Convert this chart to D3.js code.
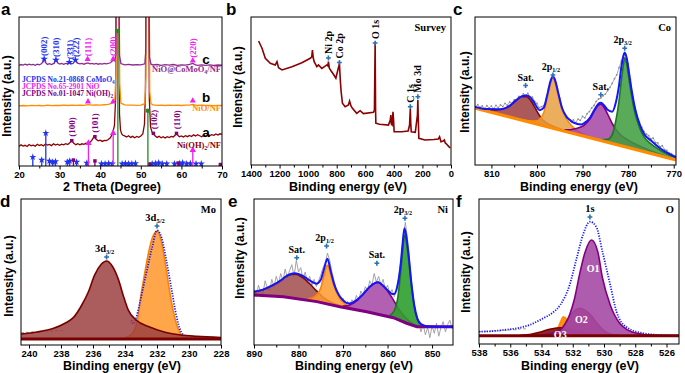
<!DOCTYPE html>
<html>
<head>
<meta charset="utf-8">
<script src="https://cdn.jsdelivr.net/npm/d3@7"></script>
<style>
  body { margin: 0; background: #fff; }
  text { font-family: "Liberation Sans", Arial, sans-serif; }
  .serif { font-family: "Liberation Serif", "Times New Roman", serif; font-weight: bold; }
  .bold { font-weight: bold; }
</style>
</head>
<body>
<svg id="fig" width="685" height="373"></svg>
<script>
// ---------- (a) XRD, 2 theta vs intensity (a.u.) ----------
const xrdA = [[20,13.0],[20.5,14.2],[21,13.4],[21.5,13.9],[22,13.1],[22.5,14.4],[23,13.6],[23.5,14.0],[24,13.3],[24.5,14.6],
  [25,13.8],[25.5,14.3],[26,13.5],[26.5,14.8],[27,14.0],[27.5,14.5],[28,13.7],[28.5,14.9],[29,14.1],[29.5,14.6],
  [30,13.9],[30.5,14.7],[31,14.2],[31.5,15.0],[32,14.4],[32.5,15.6],[33,17.0],[33.5,15.2],[34,14.3],[34.5,15.0],
  [35,14.2],[35.5,14.9],[36,14.5],[36.5,15.3],[37,14.8],[37.5,15.9],[38,17.5],[38.5,19.8],[39,18.0],[39.5,16.9],
  [40,17.3],[40.5,16.5],[41,17.2],[41.5,17.0],[42,17.8],[42.5,18.9],[43,21.5],[43.5,27],[43.8,45],[43.95,160],
  [44.6,160],[44.75,35],[45.0,24],[45.3,21.5],[45.6,20.6],[46,20.2],[46.5,19.5],[47,20.3],[47.5,19.2],[48,19.9],
  [48.5,19.0],[49,19.8],[49.5,19.3],[50,20.1],[50.5,21.5],[50.9,28],[51.15,50],[51.3,160],[51.9,160],[52.1,45],
  [52.4,26],[52.8,22.5],[53.1,21.8],[53.5,20.3],[54,19.2],[54.5,19.9],[55,18.9],[55.5,19.6],[56,18.8],[56.5,19.7],
  [57,19.1],[57.5,19.9],[58,19.5],[58.5,20.8],[58.8,21.5],[59.2,20.4],[59.5,19.6],[60,20.2],[60.5,19.4],[61,20.3],
  [61.5,19.7],[62,20.5],[62.5,19.8],[63,20.9],[63.5,20.1],[64,21.0],[64.5,20.3],[65,19.6],[65.5,20.6],[66,19.9],
  [66.5,21.2],[67,20.4],[67.5,21.0],[68,20.6],[68.5,21.5],[69,20.8],[69.5,21.6],[70,21.2]];
const xrdB = [[20,40.3],[21,40.6],[22,40.4],[23,40.7],[24,40.5],[25,40.6],[26,40.4],[27,40.8],[28,40.5],[29,40.7],
  [30,40.6],[31,40.9],[32,40.6],[33,40.8],[34,40.7],[35,40.9],[36,40.7],[37,41.2],[38,40.9],[39,41.0],[40,40.8],
  [41,41.1],[42,41.3],[42.8,42.0],[43.2,42.6],[43.6,43.8],[43.85,60],[44.0,160],[44.6,160],[44.8,55],[45.1,42.2],
  [46,41.0],[47,40.8],[48,40.9],[49,40.7],[50,40.9],[51.0,41.8],[51.25,60],[51.4,160],[52.0,160],[52.2,50],[52.5,41.8],
  [53,41.0],[54,40.7],[55,40.9],[56,40.6],[57,40.8],[58,40.7],[59,40.9],[60,40.6],[61,40.8],[62,40.9],[62.8,41.4],
  [63.5,40.8],[64,40.6],[65,40.8],[66,40.6],[67,40.7],[68,40.5],[69,40.7],[70,40.6]];
const xrdC = [[20,67.5],[20.5,68.1],[21,67.7],[21.5,68.3],[22,67.8],[22.5,68.4],[23,67.9],[23.5,68.2],[24,67.6],[24.5,68.3],
  [25,67.9],[25.5,68.6],[26,70.0],[26.2,72.5],[26.5,69.5],[27,68.2],[27.5,68.7],[28,68.1],[28.7,69.0],[29.1,72.0],
  [29.5,69.2],[30,68.4],[30.5,68.8],[31,68.2],[31.5,68.9],[32,68.6],[32.4,70.0],[32.8,68.9],[33.3,68.7],[33.9,71.0],
  [34.3,69.2],[35,68.5],[35.5,68.9],[36,68.3],[36.5,68.8],[37,69.2],[37.5,68.6],[38,68.9],[38.5,68.4],[39,68.8],
  [39.5,68.3],[40,68.7],[40.5,68.4],[41,68.9],[41.5,68.5],[42,68.8],[42.5,69.3],[43.2,71.0],[43.6,70.5],[43.85,76],
  [44.0,160],[44.55,160],[44.75,74],[45.1,68.8],[46,67.9],[47,68.2],[48,67.8],[49,68.1],[50,67.9],[51.0,68.6],
  [51.2,76],[51.35,160],[51.95,160],[52.15,73],[52.5,68.3],[53,67.8],[54,68.1],[55,67.6],[56,68.0],[57,67.7],
  [58,68.1],[59,67.6],[60,67.9],[61,67.7],[62,68.2],[62.8,68.9],[63.5,67.9],[64,67.6],[65,67.9],[66,67.5],
  [67,67.8],[68,67.6],[69,67.8],[70,67.6]];
const stickCoMoO4 = [[23.4,6.0],[25.6,4.0],[26.6,22.1],[27.5,3.4],[28.3,2.7],[29.0,3.0],[31.9,2.7],[32.5,3.4],
  [34.2,2.7],[36.7,2.0],[40.3,1.5],[41.2,1.5],[42.1,1.8],[43.0,1.5],[45.4,1.5],[46.2,1.8],[47.0,1.5],[47.8,1.5],
  [48.7,1.8],[52.8,1.5],[53.6,1.8],[54.4,2.2],[55.3,1.5],[56.4,1.5],[58.3,1.5],[59.6,1.8],[60.3,2.2],[61.3,1.5],
  [62.2,1.8],[63.6,1.5],[64.9,1.5]];
const stickNiO = [[37.1,15.4],[43.2,22.1],[62.8,10.7]];
const stickNiOH = [[33.4,4.0],[38.7,3.4],[52.2,1.3],[59.2,2.0],[69.6,1.0]];
const stickNi = [[44.35,90.6],[51.75,37.1]];
const hklCoMoO4 = [[26.2,71.8,'(002)'],[29.1,71.1,'(310)'],[32.4,69.6,'(3\u030431)'],[33.9,71.1,'(222)']];
const hklNiO = [[36.9,71.6,'(111)'],[43.2,71.8,'(200)'],[62.8,70.7,'(220)']];
const markNiOb = [[37.0,43.2],[43.2,43.2],[62.8,43.8]];
const hklNiOH = [[33.0,17.0,'(100)'],[38.7,19.7,'(101)'],[53.1,21.9,'(102)'],[58.8,21.9,'(110)']];

// ---------- (b) survey ----------
const survey = [[1347,83.8],[1323,78.9],[1300,72.1],[1265,68.7],[1230,67.6],[1218,69.8],[1207,65.7],[1183,64.2],
  [1113,66.4],[1044,69.1],[985,72.1],[975,73],[970,77.7],[964,72.3],[958,69.8],[939,66.4],[928,67.6],[904,65.3],
  [869,67.6],[862,67],[858,69.8],[852,65.5],[839,63.5],[823,61.3],[806,58.6],[795,63],[785,66.9],[781,68.7],
  [775,57.4],[769,49.5],[760,41.7],[741,39.4],[718,40.5],[710,43.2],[700,39.9],[690,38.3],[660,34.9],[645,36.1],
  [636,36.7],[613,34.7],[543,35.6],[536,37.2],[533,64.2],[531,82.2],[528,37.2],[526,28.2],[500,27.5],[438,27],
  [425,30.4],[421,33.8],[418,27.7],[412,27],[406,36],[402,30.4],[398,22.5],[345,22.5],[300,23],[290,27],[285,37.8],
  [281,26.4],[278,22.5],[250,22.1],[235,33.8],[232,43.9],[229,30.4],[225,18],[182,16.9],[120,17.2],[89,17.6],
  [80,19.1],[70,15.7],[55,16.2],[47,16.9],[40,14.9],[30,14],[15,12.4],[5,11.5]];
const surveyPeaks = [[858,72.3,'Ni 2p'],[781,69.3,'Co 2p'],[531,82.4,'O 1s'],[285,39.4,'C 1s'],[232,46.1,'Mo 3d']];

// ---------- (c) Co 2p ----------
const coBg = [[813.6,38.5],[769.5,3.4]];
const coSat1 = [[813.6,0.3],[812,0.5],[810,1.5],[808,3.5],[806,7.5],[804.5,12.5],[803.3,15.8],[802.3,16.6],
  [801.3,14.5],[800.5,11],[800,8.5],[799,4.5],[798,2.5],[796.5,1.5],[795,0.8],[793,0.3],[790,0.1]];
const coP12 = [[803,0.4],[801,1.2],[800,2.2],[799.5,3.3],[798.5,9],[797.7,20],[797,30],[796.5,33.7],[796,31],
  [795.3,23],[794.5,14],[793.5,8.5],[792.8,6],[792,4],[791,2.3],[790,1.3],[788,0.5],[785,0.1]];
const coSat2 = [[794,0.8],[793,1.7],[792,3],[791,4.5],[790,6.5],[789.5,8],[788.3,13],[787.3,19.5],[786.5,23.5],
  [786,24.5],[785.3,23],[784.5,19],[783.5,13.5],[782.5,9.5],[781.5,7],[780,5],[778,3.4],[776,2.3],[774,1.5],
  [772,0.9],[769.5,0.4]];
const coP32 = [[786,0.5],[784.5,2],[783.5,6],[782.7,16],[782,30],[781.5,44],[781,56],[780.75,60],[780.3,56],
  [779.8,46],[779.2,35],[778.5,24.5],[777.5,15.5],[776.5,10],[775,6.5],[773,3.8],[771,2.2],[769.5,1.5]];
const coEnv = [[813.6,39.2],[811,37.8],[808,37.7],[806,40.0],[804.5,44.0],[803.3,46.5],[802.3,46.9],[801.3,45.2],
  [800.5,41.5],[799.4,37.0],[798.5,38.7],[797.7,48.0],[797,57.0],[796.5,60.0],[796,57.0],[795.3,48.1],[794.5,38.5],
  [793.5,32.5],[792.8,30.5],[792,28.6],[790.3,27.3],[789.5,28.6],[788.3,32.3],[787.3,37.9],[786.5,41.4],[786,42.0],
  [785.3,40.4],[784.5,37.3],[783.5,36.0],[782.7,42.2],[782,53.8],[781.5,65.9],[781,74.0],[780.75,76.0],[780.3,72],
  [779.8,62],[779.2,50],[778.5,38.3],[777.5,27.7],[776.5,21],[775,16.5],[773,11.3],[771,7.5],[769.5,5.3]];
const coRaw = [[813.5,39.5],[813,40.8],[812.5,38.9],[812,39.9],[811.5,38.2],[811,40.1],[810.5,38.6],[810,39.8],
  [809.5,38.0],[809,40.3],[808.5,38.7],[808,40.6],[807.5,39.5],[807,41.7],[806.5,40.3],[806,42.5],[805.5,41.6],
  [805,44.0],[804.5,43.7],[804,46.3],[803.5,45.8],[803,48.0],[802.5,47.1],[802,48.3],[801.5,46.0],[801,45.8],
  [800.5,42.9],[800,41.6],[799.5,38.7],[799,39.5],[798.5,40.1],[798,44.6],[797.5,51.2],[797,56.5],[796.5,59.8],
  [796,57.9],[795.5,51.6],[795,45.2],[794.5,39.0],[794,35.1],[793.5,31.8],[793,30.9],[792.5,29.2],[792,30.4],
  [791.5,28.6],[791,31.0],[790.5,30.2],[790,32.8],[789.5,31.9],[789,34.7],[788.5,36.1],[788,38.5],[787.5,40.2],
  [787,43.0],[786.5,44.6],[786,45.3],[785.5,46.8],[785,47.9],[784.5,50.2],[784,52.5],[783.5,55.1],[783,58.3],
  [782.5,60.9],[782,65.7],[781.5,70.2],[781,75.0],[780.5,74.1],[780,68.3],[779.5,57.6],[779,46.2],[778.5,38.9],
  [778,33.1],[777.5,28.7],[777,25.4],[776.5,22.6],[776,20.8],[775.5,19.9],[775,17.5],[774.5,18.2],[774,15.1],
  [773.5,14.9],[773,12.3],[772.5,13.0],[772,10.4],[771.5,9.8],[771,8.1],[770.5,7.6],[770,6.3]];
const coLabels = [[802.5,53.7,'Sat.',''],[796.5,60.8,'2p','1/2'],[786,47.5,'Sat.',''],[780.75,78.9,'2p','3/2']];

// ---------- (d) Mo 3d ----------
const moBg = [[240.5,4.1],[228,4.1]];
const mo32 = [[240.5,3.4],[239.5,4.8],[238.5,7.2],[237.75,10.8],[237.2,15],[236.7,23.3],[236.3,32],[235.9,43.8],
  [235.5,51],[235.15,53.4],[234.8,50],[234.4,40.4],[234.1,29.5],[233.8,20],[233.3,13],[232.5,8.4],[231.5,4.7],
  [230.5,2.7],[229.5,1.8],[228,1.0]];
const mo52 = [[234.2,0.3],[233.8,1.5],[233.5,4.5],[233.2,14],[233.0,30.1],[232.8,43],[232.55,58],[232.3,69],
  [232.0,74],[231.75,68],[231.5,53],[231.3,39],[231.1,25.6],[230.9,15],[230.7,7.5],[230.5,3],[230.25,0.9],
  [230,0.3],[228,0]];
const moEnv = [[233.6,17],[233.5,14.5],[233.3,18.5],[233.1,27.5],[232.75,45],[232.3,67],[232.0,78.5],[231.7,73],
  [231.4,57],[231.1,38.8],[230.8,20.5],[230.5,9.1],[230.15,5.5],[229.5,4.8],[228,4.4]];
const moRaw = [[240.5,8.2],[240.25,8.9],[240.0,8.4],[239.75,9.1],[239.5,8.6],[239.25,9.4],[239.0,8.9],
  [238.75,9.6],[238.5,9.2],[238.25,10.0],[238.0,9.6],[237.75,10.3]];
const moLabels = [[235.15,60.3,'3d','3/2'],[232.0,81.5,'3d','5/2']];

// ---------- (e) Ni 2p ----------
const niBg = [[890,34.2],[883.4,33.1],[875.9,29.7],[870.7,26.2],[864.7,22.8],[858.7,18.7],[855.7,14.9],
  [853.4,12.5],[845.3,12.5]];
const niSat1 = [[890,2.3],[888,4],[886,7],[884,11],[882.5,14.8],[880.8,16.6],[879,15],[877.5,11.5],[876,7.5],
  [874.5,4],[873,2],[871,0.8],[869,0.3]];
const niP12 = [[878,0.8],[877,2],[876,4.5],[875,10],[874.3,19],[873.5,26.6],[872.8,21],[872,13],[871,7],
  [870,3.5],[869,1.5],[867,0.5]];
const niSat2 = [[870,0.8],[868.5,2.5],[867,6],[865.5,11.5],[864,17.5],[862.2,21.8],[860.5,19],[859,13.5],
  [857.5,7.5],[856,3.5],[854,1],[852,0.3]];
const niP32 = [[859.5,1],[858.5,5],[857.7,15],[857,35],[856.6,48],[856.2,60],[855.8,56],[855.3,45],[854.7,28],
  [854,13],[853.3,5],[852.5,1.5],[851,0.3]];
const niEnv = [[890,36.5],[888,37.9],[886,40.6],[884,44.2],[882.5,47.7],[880.8,49.2],[879,47.4],[877.5,44.2],
  [876,42.0],[875,44.7],[874.3,51.7],[873.5,59],[872.8,51],[872,41.7],[871,34.6],[870,30.7],[869,28.6],[868.5,28.5],
  [867,30.7],[865.5,34.8],[864,39.9],[862.2,42.9],[860.5,39.1],[859.5,36.2],[859,34.9],[858.5,35],[857.7,41.6],
  [857,57],[856.6,70],[856.2,80],[855.8,74.8],[855.3,62.6],[854.7,43.9],[854,27.2],[853.3,18.1],[852.5,14.4],
  [851,12.8],[848,12.5],[845.3,12.5]];
const niRaw = [[890,38],[889.5,33],[889,41],[888.5,36],[888,35],[887.5,44],[887,39],[886.5,37],[886,45],[885.5,40],
  [885,47],[884.5,42],[884,49],[883.5,44],[883,52],[882.5,46],[882,51],[881.5,55],[881,47],[880.5,58],[880,50],
  [879.5,53],[879,45],[878.5,50],[878,43],[877.5,47],[877,41],[876.5,45],[876,40],[875.5,44],[875,48],[874.5,53],
  [874,56],[873.5,63],[873,58],[872.5,50],[872,44],[871.5,37],[871,35],[870.5,30],[870,32],[869.5,26],[869,30],
  [868.5,27],[868,31],[867.5,29],[867,34],[866.5,30],[866,37],[865.5,34],[865,40],[864.5,37],[864,44],[863.5,41],
  [863,49],[862.5,43],[862,47],[861.5,41],[861,45],[860.5,38],[860,41],[859.5,35],[859,38],[858.5,33],[858,39],
  [857.5,46],[857,58],[856.5,74],[856,84],[855.5,72],[855,56],[854.5,40],[854,28],[853.5,19],[853,15],[852.5,9],
  [852,14],[851.5,7],[851,12],[850.5,5],[850,13],[849.5,8],[849,15],[848.5,6],[848,12],[847.5,16],[847,9],
  [846.5,14],[846,17],[845.5,11]];
const niLabels = [[880.4,59.8,'Sat.',''],[873.7,67.8,'2p','1/2'],[862.4,56,'Sat.',''],[856.1,86.8,'2p','3/2']];

// ---------- (f) O 1s ----------
const oBg = [[538,5.7],[525.2,5.7]];
const oO1 = [[534,0.5],[533.2,2],[532.8,4],[532.5,8],[532.2,14.5],[531.9,25],[531.55,43],[531.2,58],[530.8,66],
  [530.4,58],[530.1,40],[529.6,21.2],[529.0,8.6],[528.5,4],[527.9,1.7],[526.7,0.3],[525.2,0.1]];
const oO2 = [[533.6,0.3],[533,2],[532.6,6],[532.2,13],[531.9,17],[531.55,18.9],[531.2,17.5],[530.8,13.5],
  [530.4,8],[530,3.5],[529.6,1.2],[529,0.3]];
const oO3 = [[535.4,0.2],[534.6,1.2],[534,2.8],[533.4,4.6],[532.8,5.5],[532.2,4.8],[531.6,3],[531,1.3],
  [530.4,0.4],[529.8,0.1]];
const oOrange = [[533.3,0.5],[533.0,4],[532.8,9],[532.6,13],[532.4,11.5],[532.2,7],[531.9,3],[531.5,0.8],[531.2,0.2]];
const oEnv = [[538,8.5],[537,9.0],[536.5,9.6],[535.6,10.8],[534.8,13],[533.9,17.7],[533.3,21.5],[532.8,26.9],
  [532.2,40.7],[531.75,59.1],[531.35,75.2],[530.9,84.3],[530.5,80.9],[530.1,63.7],[529.6,40.7],[529.2,22.3],
  [528.6,11.9],[527.5,7.4],[526.5,6.2],[525.2,5.7]];
const oRaw = [[538,8.3],[537.7,8.9],[537.4,8.5],[537.1,9.2],[536.8,8.8],[536.5,9.6],[536.2,9.3],[535.9,10.1],
  [535.6,9.7],[535.3,10.6],[535.0,10.4]];
const oNames = [[530.7,52,'O1'],[531.45,17,'O2'],[532.8,6.5,'O3']];
const oLabels = [[530.9,87.6,'1s','']];

// ---------- drawing ----------
const svg = d3.select('#fig');
const markBlue = '#2a72b8';

function makePanel(name, box, xDomain) {
  const x = d3.scaleLinear().domain(xDomain).range([box.left, box.right]);
  const y = d3.scaleLinear().domain([0, 100]).range([box.bottom, box.top]);
  svg.append('clipPath').attr('id', 'clip-' + name).append('rect')
    .attr('x', box.left).attr('y', box.top)
    .attr('width', box.right - box.left).attr('height', box.bottom - box.top);
  const g = svg.append('g');
  const plot = g.append('g').attr('clip-path', `url(#clip-${name})`);
  return { x, y, g, plot, box };
}

function finishPanel(p, o) {
  const b = p.box;
  p.g.append('rect').attr('x', b.left).attr('y', b.top)
    .attr('width', b.right - b.left).attr('height', b.bottom - b.top)
    .attr('fill', 'none').attr('stroke', '#000').attr('stroke-width', 1);
  p.g.append('g').attr('transform', `translate(0,${b.bottom})`)
    .call(d3.axisBottom(p.x).tickValues(o.minor).tickSize(2.5).tickFormat(''))
    .call(s => s.select('.domain').remove());
  p.g.append('g').attr('transform', `translate(0,${b.bottom})`)
    .call(d3.axisBottom(p.x).tickValues(o.major).tickSize(3.5).tickPadding(1.5).tickFormat(d3.format('d')))
    .call(s => s.select('.domain').remove())
    .call(s => s.selectAll('text').attr('fill', '#000').style('font-size', '9.5px').style('font-weight', 'bold')
      .style('font-family', '"Liberation Sans", Arial, sans-serif'));
  p.g.append('text').attr('x', o.titleX).attr('y', o.titleY).attr('text-anchor', 'middle')
    .attr('class', 'bold').style('font-size', '12.5px').text(o.title);
  p.g.append('text').attr('transform', `translate(${o.yX},${o.yC}) rotate(-90)`).attr('text-anchor', 'middle')
    .attr('class', 'bold').style('font-size', '12px').text('Intensity (a.u.)');
  p.g.append('text').attr('x', o.letter[0]).attr('y', o.letter[1])
    .attr('class', 'bold').style('font-size', '17px').text(o.letter[2]);
}

function bgScale(bg) {
  return d3.scaleLinear().domain(bg.map(d => d[0])).range(bg.map(d => d[1]));
}

function component(p, data, bg, fill, stroke, opacity) {
  const bs = bgScale(bg);
  const area = d3.area().x(d => p.x(d[0])).y0(d => p.y(bs(d[0]))).y1(d => p.y(bs(d[0]) + d[1]))
    .curve(d3.curveMonotoneX);
  const line = d3.line().x(d => p.x(d[0])).y(d => p.y(bs(d[0]) + d[1])).curve(d3.curveMonotoneX);
  p.plot.append('path').attr('d', area(data)).attr('fill', fill).attr('fill-opacity', opacity);
  p.plot.append('path').attr('d', line(data)).attr('fill', 'none').attr('stroke', stroke).attr('stroke-width', 1.6);
}

function curve(p, data, color, width, dash, kind) {
  const line = d3.line().x(d => p.x(d[0])).y(d => p.y(d[1])).curve(kind || d3.curveMonotoneX);
  const path = p.plot.append('path').attr('d', line(data)).attr('fill', 'none')
    .attr('stroke', color).attr('stroke-width', width);
  if (dash) path.attr('stroke-dasharray', dash);
  return path;
}

function rawPoints(p, data, color, r) {
  curve(p, data, color, 0.7, null, d3.curveLinear);
  p.plot.selectAll(null).data(data).join('circle')
    .attr('cx', d => p.x(d[0])).attr('cy', d => p.y(d[1])).attr('r', r).attr('fill', color);
}

function symbolAt(g, type, size, color, px, py) {
  g.append('path').attr('d', d3.symbol().type(type).size(size)())
    .attr('transform', `translate(${px},${py})`).attr('fill', color);
}

function peakLabels(p, labels, size) {
  labels.forEach(([xv, v, main, sub]) => {
    const px = p.x(xv), py = p.y(v);
    symbolAt(p.g, d3.symbolCross, 13, markBlue, px, py);
    const t = p.g.append('text').attr('x', sub ? px - 2 : px).attr('y', py - 5).attr('text-anchor', 'middle')
      .attr('class', 'serif').style('font-size', size + 'px');
    t.append('tspan').text(main);
    if (sub) t.append('tspan').attr('dy', 2).style('font-size', (size * 0.62) + 'px').text(sub);
  });
}

function cornerLabel(p, txt) {
  p.g.append('text').attr('x', p.box.right - 5).attr('y', p.box.top + 14).attr('text-anchor', 'end')
    .attr('class', 'serif').style('font-size', '10.5px').text(txt);
}

function vLabel(g, px, py, txt, color, size) {
  g.append('text').attr('transform', `translate(${px},${py}) rotate(-90)`).attr('dy', '0.35em')
    .attr('class', 'serif').style('font-size', size + 'px').attr('fill', color).text(txt);
}

// ===== panel a =====
const pa = makePanel('a', { left: 19, right: 222, top: 17, bottom: 166 }, [20, 70]);
const colC = '#8e2a8e', colB = '#ff8c00', colA = '#8b0000';
const colBlue = '#2233ee', colMag = '#f020f0', colPur = '#800080', colGreen = '#1e8c1e';

curve(pa, xrdA, colA, 1.3, null, d3.curveLinear);
curve(pa, xrdB, colB, 1.3, null, d3.curveLinear);
curve(pa, xrdC, colC, 1.3, null, d3.curveLinear);

function sticks(data, color, sym, size) {
  data.forEach(([t, h]) => {
    pa.plot.append('line').attr('x1', pa.x(t)).attr('x2', pa.x(t)).attr('y1', pa.y(0)).attr('y2', pa.y(h))
      .attr('stroke', color).attr('stroke-width', 1.3);
    symbolAt(pa.plot, sym, size, color, pa.x(t), pa.y(h));
  });
}
sticks(stickCoMoO4, colBlue, d3.symbolStar, 16);
sticks(stickNiOH, colPur, d3.symbolSquare, 12);
sticks(stickNiO, colMag, d3.symbolTriangle, 18);
sticks(stickNi, colGreen, d3.symbolCircle, 16);

hklCoMoO4.forEach(([t, v, s]) => {
  symbolAt(pa.g, d3.symbolStar, 18, colBlue, pa.x(t), pa.y(v));
  vLabel(pa.g, pa.x(t), pa.y(v) - 3, s, colBlue, 9);
});
hklNiO.forEach(([t, v, s]) => {
  symbolAt(pa.g, d3.symbolTriangle, 16, colMag, pa.x(t), pa.y(v));
  vLabel(pa.g, pa.x(t), pa.y(v) - 3, s, colMag, 9);
});
markNiOb.forEach(([t, v]) => symbolAt(pa.g, d3.symbolTriangle, 16, colMag, pa.x(t), pa.y(v)));
hklNiOH.forEach(([t, v, s]) => {
  symbolAt(pa.g, d3.symbolSquare, 12, colPur, pa.x(t), pa.y(v));
  vLabel(pa.g, pa.x(t), pa.y(v) - 4, s, colPur, 9);
});

function richText(g, px, py, parts, color, size, anchor) {
  const t = g.append('text').attr('x', px).attr('y', py).attr('class', 'serif')
    .style('font-size', size + 'px').attr('fill', color).attr('text-anchor', anchor || 'start');
  let shift = 0;
  parts.forEach(([s, isSub]) => {
    const dy = isSub ? 2 - shift : -shift;
    shift = isSub ? 2 : 0;
    const ts = t.append('tspan').attr('dy', dy).text(s);
    if (isSub) ts.style('font-size', (size * 0.7) + 'px');
  });
}
richText(pa.g, 22, 81.5, [['JCPDS No.21-0868 CoMoO'], ['4', 1]], colBlue, 7.6);
richText(pa.g, 22, 88.7, [['JCPDS No.65-2901 NiO']], colMag, 7.6);
richText(pa.g, 22, 95.9, [['JCPDS No.01-1047 Ni(OH)'], ['2', 1]], colPur, 7.6);
richText(pa.g, 221, 72, [['NiO@CoMoO'], ['4', 1], ['/NF']], colC, 8.5, 'end');
richText(pa.g, 221, 111, [['NiO/NF']], colB, 8.5, 'end');
richText(pa.g, 221, 147.5, [['Ni(OH)'], ['2', 1], ['/NF']], colA, 8.5, 'end');
[['c', 63.5], ['b', 102], ['a', 136.5]].forEach(([s, yy]) => {
  pa.g.append('text').attr('x', 206).attr('y', yy).attr('text-anchor', 'middle')
    .attr('class', 'bold').style('font-size', '13.5px').text(s);
});
finishPanel(pa, { major: [20, 30, 40, 50, 60, 70], minor: [25, 35, 45, 55, 65],
  title: '2 Theta (Degree)', titleX: 112, titleY: 190.5, yX: 11, yC: 96, letter: [1, 15, 'a'] });

// ===== panel b =====
const pb = makePanel('b', { left: 251, right: 451, top: 17, bottom: 165 }, [1400, 0]);
curve(pb, survey, '#8b0000', 1.6, null, d3.curveLinear);
surveyPeaks.forEach(([be, v, s]) => {
  symbolAt(pb.g, d3.symbolCross, 13, markBlue, pb.x(be), pb.y(v));
  vLabel(pb.g, pb.x(be), pb.y(v) - 4, s, '#000', 10);
});
cornerLabel(pb, 'Survey');
finishPanel(pb, { major: d3.range(0, 1401, 200), minor: d3.range(100, 1400, 200),
  title: 'Binding energy (eV)', titleX: 348, titleY: 190.5, yX: 242, yC: 87, letter: [226, 15, 'b'] });

// ===== panel c =====
const pc = makePanel('c', { left: 475, right: 676, top: 17, bottom: 165 }, [813.6, 769.5]);
component(pc, coSat1, coBg, '#9c3c3c', '#7a0a0a', 0.85);
component(pc, coP12, coBg, '#e8a040', '#ff8c00', 0.85);
component(pc, coSat2, coBg, '#a444a4', '#800080', 0.85);
component(pc, coP32, coBg, '#3c9c3c', '#1a7a1a', 0.85);
rawPoints(pc, coRaw, '#8c8c8c', 0.9);
curve(pc, coBg, '#ff8c00', 3.2, null, d3.curveLinear);
curve(pc, coEnv, '#1414ff', 2);
peakLabels(pc, coLabels, 10);
cornerLabel(pc, 'Co');
finishPanel(pc, { major: [810, 800, 790, 780, 770], minor: [805, 795, 785, 775],
  title: 'Binding energy (eV)', titleX: 579, titleY: 190.5, yX: 469, yC: 92, letter: [453, 15, 'c'] });

// ===== panel d =====
const pd = makePanel('d', { left: 21, right: 221, top: 199, bottom: 345 }, [240.5, 228]);
curve(pd, moRaw, '#999', 1, '3,2', d3.curveLinear);
component(pd, mo52, moBg, '#ffa040', '#ff8000', 0.95);
curve(pd, moEnv, '#1414ff', 1.8, '1.2,1.4');
component(pd, mo32, moBg, '#9c4040', '#7a0000', 0.85);
curve(pd, moBg, '#7a0000', 3.2, null, d3.curveLinear);
peakLabels(pd, moLabels, 10.5);
cornerLabel(pd, 'Mo');
finishPanel(pd, { major: d3.range(228, 241, 2), minor: d3.range(229, 240, 2),
  title: 'Binding energy (eV)', titleX: 122, titleY: 369.5, yX: 13, yC: 276, letter: [0, 207, 'd'] });

// ===== panel e =====
const pe = makePanel('e', { left: 254, right: 453, top: 199, bottom: 345 }, [890, 845.3]);
curve(pe, niRaw, '#9a9a9a', 0.9, null, d3.curveLinear);
component(pe, niSat1, niBg, '#9c4444', '#7a0a0a', 0.82);
component(pe, niP12, niBg, '#ff9a30', '#ff8000', 0.85);
component(pe, niSat2, niBg, '#a444a4', '#800080', 0.85);
component(pe, niP32, niBg, '#2e9e2e', '#1a7a1a', 0.9);
curve(pe, niBg, '#800080', 3, null, d3.curveLinear);
curve(pe, niEnv, '#1414ff', 2);
peakLabels(pe, niLabels, 10);
cornerLabel(pe, 'Ni');
finishPanel(pe, { major: [890, 880, 870, 860, 850], minor: [885, 875, 865, 855],
  title: 'Binding energy (eV)', titleX: 354, titleY: 369.5, yX: 243.5, yC: 258, letter: [228, 207, 'e'] });

// ===== panel f =====
const pf = makePanel('f', { left: 479, right: 679, top: 199, bottom: 344 }, [538, 525.2]);
curve(pf, oRaw, '#999', 1, '3,2', d3.curveLinear);
curve(pf, oEnv, '#1414ff', 1.8, '1.2,1.4');
component(pf, oOrange, oBg, '#ff8c00', '#ff8c00', 0.95);
component(pf, oO3, oBg, '#8b1a1a', '#7a0000', 0.95);
component(pf, oO2, oBg, '#b0405e', '#9a2040', 0.9);
component(pf, oO1, oBg, '#a346a3', '#800080', 0.88);
curve(pf, oBg, '#7a0000', 3, null, d3.curveLinear);
oNames.forEach(([be, v, s]) => {
  pf.g.append('text').attr('x', pf.x(be)).attr('y', pf.y(v)).attr('dy', '0.35em').attr('text-anchor', 'middle')
    .attr('class', 'serif').attr('fill', '#fff').style('font-size', '10px').text(s);
});
peakLabels(pf, oLabels, 10.5);
cornerLabel(pf, 'O');
finishPanel(pf, { major: d3.range(526, 539, 2), minor: d3.range(527, 538, 2),
  title: 'Binding energy (eV)', titleX: 580, titleY: 369.5, yX: 469.5, yC: 272, letter: [456, 207, 'f'] });
</script>
</body>
</html>
